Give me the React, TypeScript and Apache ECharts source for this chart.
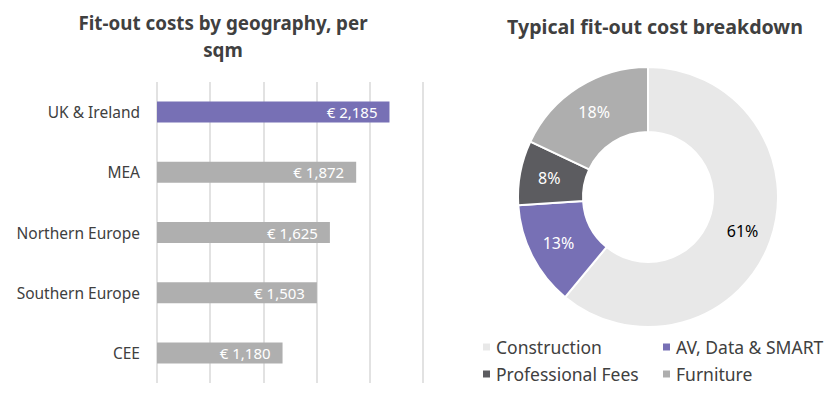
import React, { useEffect, useRef } from "react";
import * as echarts from "echarts";

const categories = ["UK & Ireland", "MEA", "Northern Europe", "Southern Europe", "CEE"];
const costs = [2185, 1872, 1625, 1503, 1180];
const sliceNames = ["Construction", "AV, Data & SMART", "Professional Fees", "Furniture"];
const sliceValues = [61, 13, 8, 18];
const sliceColors = ["#E8E8E8", "#7770B5", "#5C5C60", "#AEAEAE"];

const FONT = "'Noto Sans', sans-serif";

export default function App() {
  const ref = useRef<HTMLDivElement>(null);
  useEffect(() => {
    document.body.style.margin = "0";
    const chart = echarts.init(ref.current!, null, { renderer: "svg" });
    const legendPos = [
      { left: 476, top: 333 },
      { left: 656, top: 333 },
      { left: 476, top: 360 },
      { left: 656, top: 360 },
    ];
    chart.setOption({
      animation: false,
      textStyle: { fontFamily: FONT },
      title: [
        {
          text: "Fit-out costs by geography, per\nsqm",
          left: 218,
          top: 4,
          textAlign: "center",
          textStyle: { fontFamily: FONT, fontSize: 18.8, fontWeight: "bold", color: "#404040", lineHeight: 27 },
        },
        {
          text: "Typical fit-out cost breakdown",
          left: 650,
          top: 8,
          textAlign: "center",
          textStyle: { fontFamily: FONT, fontSize: 19.6, fontWeight: "bold", color: "#404040", lineHeight: 27 },
        },
      ],
      legend: sliceNames.map((n, i) => ({
        data: [n],
        left: legendPos[i].left,
        top: legendPos[i].top,
        icon: "rect",
        itemWidth: 9,
        itemHeight: 9,
        itemGap: 0,
        selectedMode: false,
        textStyle: { fontFamily: FONT, fontSize: 17.5, color: "#404040" },
      })),
      grid: { left: 157, width: 266, top: 82, height: 301 },
      xAxis: {
        type: "value",
        min: 0,
        max: 2500,
        interval: 500,
        axisLabel: { show: false },
        axisLine: { show: false },
        axisTick: { show: false },
        splitLine: { lineStyle: { color: "#D9D9D9", width: 1.5 } },
      },
      yAxis: {
        type: "category",
        inverse: true,
        data: categories,
        axisLine: { show: false },
        axisTick: { show: false },
        axisLabel: { fontFamily: FONT, fontSize: 15.5, color: "#404040", margin: 17 },
      },
      series: [
        {
          type: "bar",
          barWidth: 21,
          data: costs.map((v, i) => ({
            value: v,
            itemStyle: { color: i === 0 ? "#7770B5" : "#AFAFAF" },
          })),
          label: {
            show: true,
            position: "insideRight",
            distance: 12,
            color: "#fff",
            fontFamily: FONT,
            fontSize: 15,
            formatter: (p: any) => "€ " + p.value.toLocaleString("en-US"),
          },
        },
        {
          type: "pie",
          center: [648, 197],
          radius: [65, 130],
          startAngle: 90,
          clockwise: true,
          itemStyle: { borderColor: "#fff", borderWidth: 2 },
          label: {
            show: true,
            position: "inside",
            formatter: "{c}%",
            fontFamily: FONT,
            fontSize: 16,
            color: "#fff",
          },
          labelLine: { show: false },
          data: sliceNames.map((n, i) => ({
            name: n,
            value: sliceValues[i],
            itemStyle: { color: sliceColors[i] },
            label: i === 0 ? { color: "#000" } : undefined,
          })),
        },
      ],
    });
    return () => chart.dispose();
  }, []);
  return <div ref={ref} style={{ width: 833, height: 396 }} />;
}
